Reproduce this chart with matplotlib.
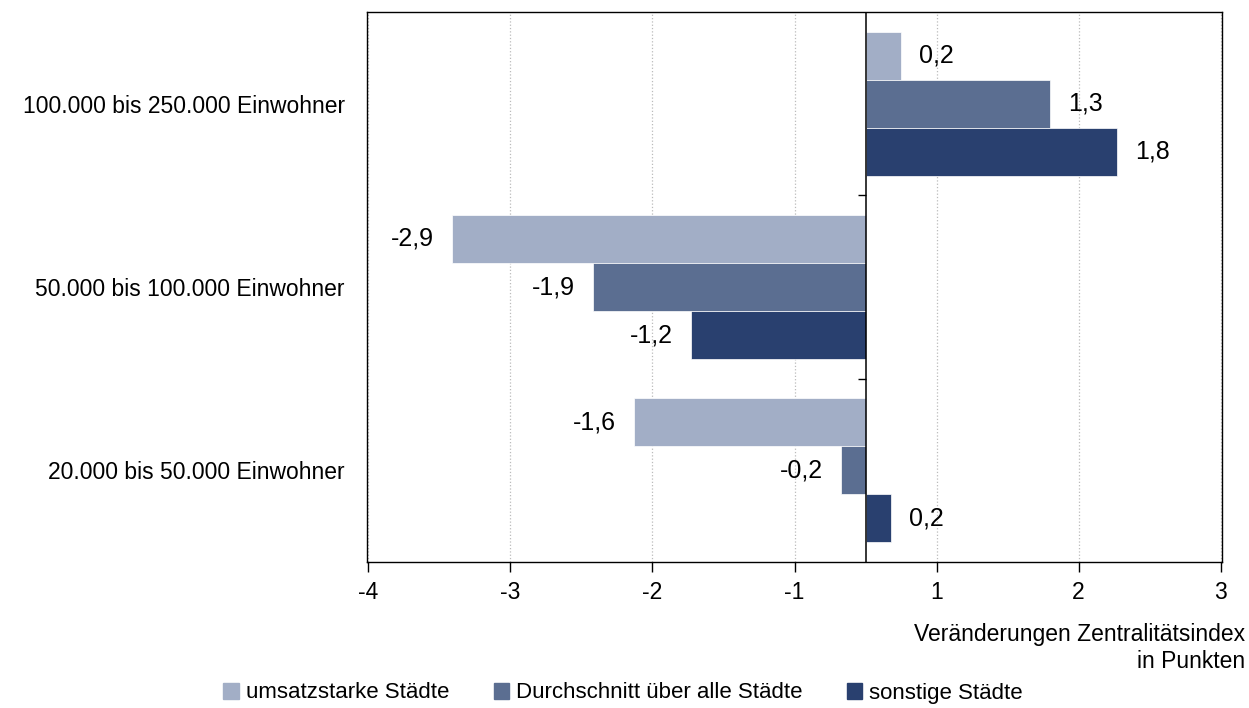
import numpy as np
import matplotlib.pyplot as plt

# --- data ---
categories = ["20.000 bis 50.000 Einwohner",
              "50.000 bis 100.000 Einwohner",
              "100.000 bis 250.000 Einwohner"]
series_names = ["umsatzstarke Städte", "Durchschnitt über alle Städte", "sonstige Städte"]
umsatzstark = [-1.63, -2.91, 0.25]
durchschnitt = [-0.17, -1.92, 1.30]
sonstige = [0.18, -1.23, 1.77]
colors = ["#A2AEC6", "#5B6E91", "#29406F"]

# the source chart's axis labels skip the zero; ticks sit half a unit off
tick_pos = [-3.5, -2.5, -1.5, -0.5, 0.5, 1.5, 2.5]
tick_labels = ["-4", "-3", "-2", "-1", "1", "2", "3"]

plt.rcParams["font.family"] = ["Liberation Sans", "DejaVu Sans"]

fig = plt.figure(figsize=(12.49, 7.08), dpi=100)
ax = fig.add_axes([367 / 1249, 1 - 562 / 708, 855 / 1249, 550 / 708])

y = np.arange(len(categories))
w = 0.262
all_series = [umsatzstark, durchschnitt, sonstige]
offsets = [w, 0, -w]

for vals, off, col in zip(all_series, offsets, colors):
    bars = ax.barh(y + off, vals, height=w, color=col, edgecolor="white", linewidth=0.5, zorder=3)
    for b, v in zip(bars, vals):
        txt = f"{v:.1f}".replace(".", ",")
        if v >= 0:
            ax.annotate(txt, (v, b.get_y() + w / 2), xytext=(13, 0), textcoords="offset points",
                        ha="left", va="center", fontsize=18)
        else:
            ax.annotate(txt, (v, b.get_y() + w / 2), xytext=(-13, 0), textcoords="offset points",
                        ha="right", va="center", fontsize=18)

ax.set_xlim(-3.51, 2.51)
ax.set_ylim(-0.5, 2.5)
ax.axvline(0, color="black", lw=1.1, zorder=4)
ax.hlines([0.5, 1.5], -0.05, 0, color="black", lw=1, zorder=4)

ax.set_xticks(tick_pos)
ax.set_xticklabels(tick_labels, fontsize=16.5)
ax.tick_params(axis="x", direction="out", length=7, width=1, pad=7)
ax.xaxis.grid(True, linestyle=":", color="#BBBBBB", lw=0.9, zorder=0)

ax.set_yticks(y)
ax.set_yticklabels(categories, fontsize=16.5)
ax.tick_params(axis="y", length=0, pad=16)

for s in ax.spines.values():
    s.set_color("black")
    s.set_linewidth(1)

fig.text(1245 / 1249, 1 - 635 / 708, "Veränderungen Zentralitätsindex", ha="right", va="center", fontsize=16.5)
fig.text(1245 / 1249, 1 - 661 / 708, "in Punkten", ha="right", va="center", fontsize=16.5)

handles = [plt.Rectangle((0, 0), 1, 1, color=c) for c in colors]
fig.legend(handles, series_names, loc="center", bbox_to_anchor=(623 / 1249, 1 - 693 / 708),
           ncol=3, frameon=False, fontsize=16, handlelength=0.7, handleheight=0.7,
           handletextpad=0.3, columnspacing=2.0)

fig.savefig("out.png", dpi=100)
